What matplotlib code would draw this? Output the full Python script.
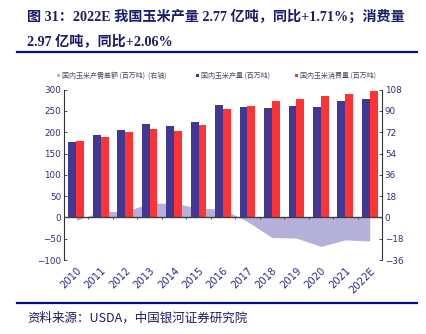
import numpy as np
import matplotlib
matplotlib.use("Agg")
import matplotlib.pyplot as plt
from matplotlib.lines import Line2D

plt.rcParams['font.family'] = ['DejaVu Sans', 'Noto Sans CJK SC']

years = ["2010", "2011", "2012", "2013", "2014", "2015", "2016",
         "2017", "2018", "2019", "2020", "2021", "2022E"]
production = [177, 193, 206, 219, 215, 225, 264, 259, 257, 261, 260, 273, 277]
consumption = [180, 188, 201, 208, 203, 218, 255, 262, 274, 278, 285, 291, 297]
gap = [-2.5, 5, 5, 12, 12, 8, 7, -3.5, -17, -17.5, -24.5, -19, -20]

NAVY = "#2b2b8c"
BLUE = "#423894"
RED = "#ff3333"
AREA = "#b5b1da"

fig = plt.figure(figsize=(4.27, 3.34), dpi=100)
fig.patch.set_facecolor("white")

# title and rules
title_font = ['Liberation Serif', 'Noto Sans CJK SC']
fig.text(27/427, 1 - 17/334, "图 31：2022E 我国玉米产量 2.77 亿吨，同比+1.71%；消费量",
         family=title_font, weight="bold", fontsize=10.2, color="#1c1c6a", va="center")
fig.text(27/427, 1 - 41/334, "2.97 亿吨，同比+2.06%",
         family=title_font, weight="bold", fontsize=10.2, color="#1c1c6a", va="center")
fig.add_artist(Line2D([17/427, 417/427], [1 - 52/334] * 2, color="#0a0a8c", lw=1.6))
fig.add_artist(Line2D([17/427, 417/427], [1 - 303/334] * 2, color="#0a0a8c", lw=1.6))
fig.text(27/427, 1 - 318/334, "资料来源：USDA，中国银河证券研究院",
         family=['Noto Sans CJK SC', 'DejaVu Sans'], style="italic",
         fontsize=9, color="#1c1c6a", va="center")

ax = fig.add_axes([64/427, 1 - 260/334, (382 - 64)/427, (260 - 89.7)/334])
ax2 = ax.twinx()
ax2.set_zorder(ax.get_zorder() - 1)
ax.patch.set_visible(False)

x = np.arange(len(years))
w = 0.32
b1 = ax.bar(x - w/2, production, w, color=BLUE, label="国内玉米产量 (百万吨)", zorder=3)
b2 = ax.bar(x + w/2, consumption, w, color=RED, label="国内玉米消费量 (百万吨)", zorder=3)
area = ax2.fill_between(x, gap, 0, color=AREA, lw=0, label="国内玉米产需差额 (百万吨)  (右轴)")

ax.set_xlim(-0.5, len(years) - 0.5)
ax.set_ylim(-100, 300)
ax.set_yticks(np.arange(-100, 301, 50))
ax2.set_ylim(-36, 108)
ax2.set_yticks(np.arange(-36, 109, 18))

# zero line with small ticks at category boundaries
ax.axhline(0, color="#404040", lw=1.0, zorder=4)
ax.vlines(np.arange(1, len(years)) - 0.5, -4, 0, color="#404040", lw=0.6, zorder=4)

for a in (ax, ax2):
    for s in ("top", "bottom"):
        a.spines[s].set_visible(False)
ax2.spines["left"].set_visible(False)
ax.spines["right"].set_visible(False)
ax.spines["left"].set_color("#333333")
ax2.spines["right"].set_color("#333333")

ax.tick_params(axis="y", direction="in", length=2.5, width=0.6, color="#333333",
               labelsize=6.3, labelcolor=NAVY, pad=2)
ax2.tick_params(axis="y", direction="in", length=2.5, width=0.6, color="#333333",
                labelsize=6.3, labelcolor=NAVY, pad=2)
ax.set_xticks(x)
ax.set_xticklabels(years, rotation=45, ha="right", rotation_mode="anchor")
ax.tick_params(axis="x", length=0, labelsize=7.2, labelcolor=NAVY, pad=4)

# one legend entry per series, placed along the top
legend_x = [57/427, 196/427, 295/427]
for h, lx in zip([area, b1, b2], legend_x):
    leg = fig.legend([h], [h.get_label()], loc="center left",
                     bbox_to_anchor=(lx, 1 - 76/334), frameon=False,
                     labelcolor="#4a4a6a", handlelength=0.4, handleheight=0.4,
                     handletextpad=0.25, borderpad=0, borderaxespad=0,
                     prop={'family': ['Noto Sans CJK SC', 'DejaVu Sans'], 'size': 5.0})

fig.savefig("out.png", dpi=100)
